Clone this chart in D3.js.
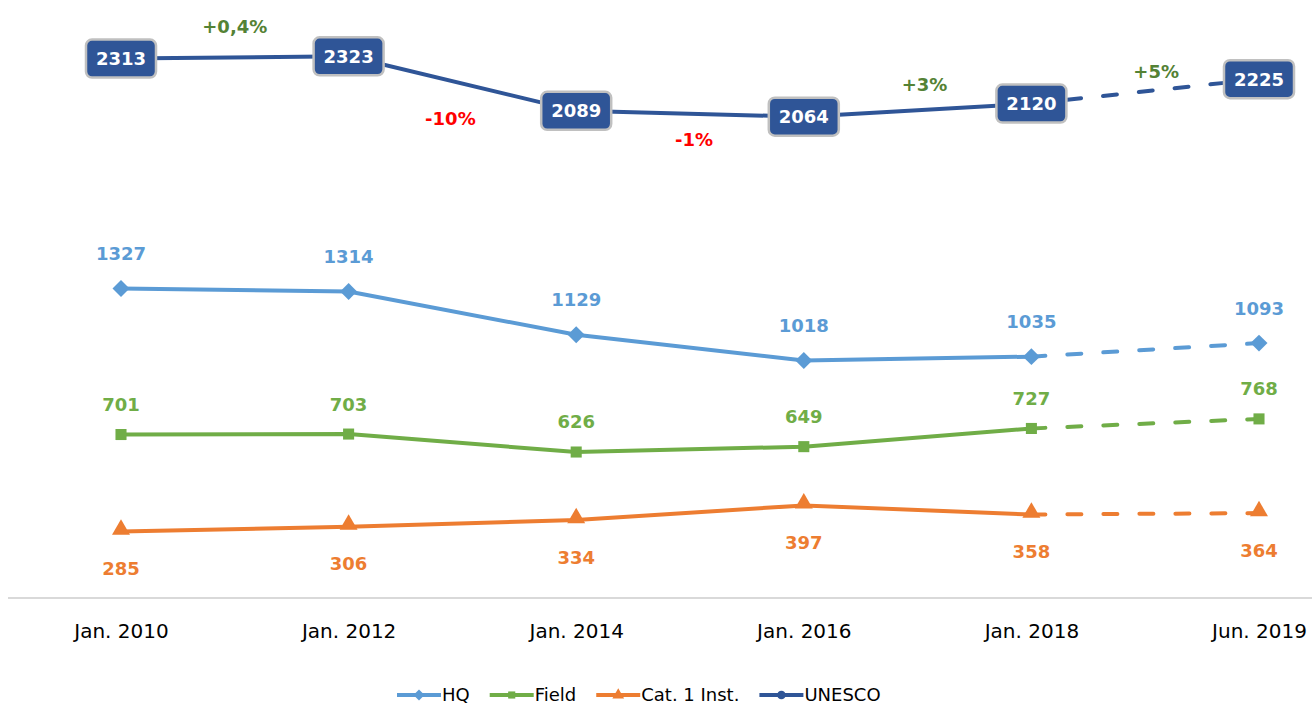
<!DOCTYPE html>
<html>
<head>
<meta charset="utf-8">
<script src="https://cdn.jsdelivr.net/npm/d3@7"></script>
<style>
  body { margin: 0; background: #fff; }
  svg { display: block; font-family: "Century Gothic", "DejaVu Sans", sans-serif; }
</style>
</head>
<body>
<script>
// categories and values
var categories = ["Jan. 2010", "Jan. 2012", "Jan. 2014", "Jan. 2016", "Jan. 2018", "Jun. 2019"];
var unesco = [2313, 2323, 2089, 2064, 2120, 2225];
var hq = [1327, 1314, 1129, 1018, 1035, 1093];
var field = [701, 703, 626, 649, 727, 768];
var cat1 = [285, 306, 334, 397, 358, 364];
var changes = ["+0,4%", "-10%", "-1%", "+3%", "+5%"];

var w = 1312, h = 706;

var svg = d3.select("body").append("svg")
  .attr("width", w)
  .attr("height", h);

var x = d3.scalePoint()
  .domain(categories)
  .range([121, 1259]);

var y = d3.scaleLinear()
  .domain([0, 2500])
  .range([598, 15]);

// axis line (no y axis)
svg.append("line")
  .attr("x1", 8).attr("x2", w)
  .attr("y1", y(0)).attr("y2", y(0))
  .attr("stroke", "#d9d9d9")
  .attr("stroke-width", 2);

var xAxis = svg.append("g")
  .attr("transform", "translate(0," + y(0) + ")")
  .call(d3.axisBottom(x).tickSize(0).tickPadding(26));
xAxis.select(".domain").remove();
xAxis.selectAll("text")
  .attr("font-family", "'Century Gothic', 'DejaVu Sans', sans-serif")
  .attr("font-size", "20px")
  .attr("fill", "#000");

var series = [
  { name: "HQ", values: hq, color: "#5b9bd5", marker: "diamond", labelDy: -35 },
  { name: "Field", values: field, color: "#70ad47", marker: "square", labelDy: -30 },
  { name: "Cat. 1 Inst.", values: cat1, color: "#ed7d31", marker: "triangle", labelDy: 37 },
  { name: "UNESCO", values: unesco, color: "#2f5597", marker: "circle", labelDy: 0 }
];

function marker(type, size) {
  if (type === "diamond") return d3.symbol().type(d3.symbolSquare).size(size)();
  if (type === "square") return d3.symbol().type(d3.symbolSquare).size(size * 0.85)();
  if (type === "triangle") return d3.symbol().type(d3.symbolTriangle).size(size)();
  return d3.symbol().type(d3.symbolCircle).size(size)();
}

var line = d3.line()
  .x(function(d) { return x(d.cat); })
  .y(function(d) { return y(d.v); });

series.forEach(function(s) {
  var pts = s.values.map(function(v, i) { return { cat: categories[i], v: v }; });
  var g = svg.append("g");

  g.append("path")
    .datum(pts.slice(0, 5))
    .attr("d", line)
    .attr("fill", "none")
    .attr("stroke", s.color)
    .attr("stroke-width", 4)
    .attr("stroke-linejoin", "round");

  g.append("path")
    .datum(pts.slice(4))
    .attr("d", line)
    .attr("fill", "none")
    .attr("stroke", s.color)
    .attr("stroke-width", 4)
    .attr("stroke-linecap", "round")
    .attr("stroke-dasharray", "14,22");

  if (s.name === "UNESCO") {
    // value boxes
    var box = g.selectAll("g.box")
      .data(pts)
      .enter()
      .append("g")
      .attr("transform", function(d) { return "translate(" + x(d.cat) + "," + y(d.v) + ")"; });
    box.append("rect")
      .attr("x", -35).attr("y", -19)
      .attr("width", 70).attr("height", 38)
      .attr("rx", 6)
      .attr("fill", "#2f5597")
      .attr("stroke", "#c0c0c0")
      .attr("stroke-width", 2.5);
    box.append("text")
      .text(function(d) { return d.v; })
      .attr("text-anchor", "middle")
      .attr("dy", "0.36em")
      .attr("font-size", "18px")
      .attr("font-weight", "bold")
      .attr("fill", "#fff");
  } else {
    g.selectAll("path.mk")
      .data(pts)
      .enter()
      .append("path")
      .attr("d", marker(s.marker, s.marker === "triangle" ? 140 : 144))
      .attr("transform", function(d) {
        var t = "translate(" + x(d.cat) + "," + (y(d.v) + (s.marker === "triangle" ? -2 : 0)) + ")";
        return s.marker === "diamond" ? t + " rotate(45)" : t;
      })
      .attr("fill", s.color);

    g.selectAll("text.lbl")
      .data(pts)
      .enter()
      .append("text")
      .text(function(d) { return d.v; })
      .attr("x", function(d) { return x(d.cat); })
      .attr("y", function(d) { return y(d.v) + s.labelDy; })
      .attr("dy", "0.36em")
      .attr("text-anchor", "middle")
      .attr("font-size", "18px")
      .attr("font-weight", "bold")
      .attr("fill", s.color);
  }
});

// percentage changes between UNESCO values (label nudges are layout only)
var chgDx = [0, -12, 4, 7, 11];
var chgDy = [-31, 35, 26, -26, -20];
svg.selectAll("text.chg")
  .data(changes)
  .enter()
  .append("text")
  .text(function(d) { return d; })
  .attr("x", function(d, i) {
    return (x(categories[i]) + x(categories[i + 1])) / 2 + chgDx[i];
  })
  .attr("y", function(d, i) {
    return y((unesco[i] + unesco[i + 1]) / 2) + chgDy[i];
  })
  .attr("dy", "0.36em")
  .attr("text-anchor", "middle")
  .attr("font-size", "18px")
  .attr("font-weight", "bold")
  .attr("fill", function(d) { return d[0] === "-" ? "#ff0000" : "#548235"; });

// legend
var legend = svg.append("g").attr("transform", "translate(0,695)");
var lx = 397;
series.forEach(function(s) {
  var item = legend.append("g").attr("transform", "translate(" + lx + ",0)");
  item.append("line")
    .attr("x1", 0).attr("x2", 44)
    .attr("stroke", s.color)
    .attr("stroke-width", 4);
  item.append("path")
    .attr("d", marker(s.marker, 60))
    .attr("transform", "translate(22,0)" + (s.marker === "diamond" ? " rotate(45)" : ""))
    .attr("fill", s.color);
  var t = item.append("text")
    .text(s.name)
    .attr("x", 45)
    .attr("dy", "0.36em")
    .attr("font-size", "18px")
    .attr("fill", "#000");
  lx += 45 + t.node().getComputedTextLength() + 20;
});
</script>
</body>
</html>
